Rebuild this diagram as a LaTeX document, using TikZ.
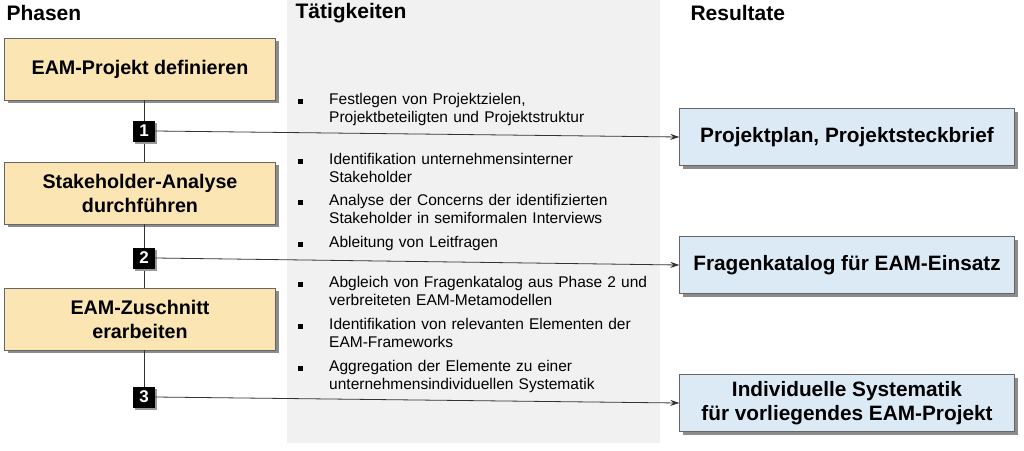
\documentclass[tikz,border=0pt]{standalone}
\usepackage{fontspec}
\setmainfont{Liberation Sans}
\usetikzlibrary{arrows.meta,shadows}
\definecolor{phase}{HTML}{FBE6B3}
\definecolor{res}{HTML}{DCEAF6}
\definecolor{bg}{HTML}{F1F1F1}
\tikzset{
  x=1pt,y=-1pt,
  phasebox/.style={draw=black!60,fill=phase,minimum width=271pt,minimum height=62pt,align=center,font=\fontsize{19.7}{24}\selectfont\bfseries,drop shadow={shadow xshift=3pt,shadow yshift=-3pt,fill=black!45,opacity=1}},
  resbox/.style={draw=black!60,fill=res,minimum width=335pt,minimum height=57pt,align=center,font=\fontsize{20.8}{24}\selectfont\bfseries,drop shadow={shadow xshift=3pt,shadow yshift=-3pt,fill=black!45,opacity=1}},
  marker/.style={fill=black,text=white,minimum width=22pt,minimum height=21pt,inner sep=0pt,font=\fontsize{17}{17}\selectfont\bfseries,drop shadow={shadow xshift=2pt,shadow yshift=-2pt,fill=black!40,opacity=1}},
  head/.style={font=\fontsize{21}{24}\selectfont\bfseries,anchor=west},
  bul/.style={anchor=north west,align=left,font=\fontsize{15.5}{18.5}\selectfont,text width=340pt,inner sep=0pt},
  conn/.style={draw=black!80,line width=0.8pt},
  arr/.style={conn,-{Stealth[length=9pt,width=6pt]}}
}
\begin{document}
\begin{tikzpicture}
\useasboundingbox (0,0) rectangle (1024,450);
\fill[bg] (287,0) rectangle (660,443);
\node[head] (h1) at (3,13) {Phasen};
\node[head] (h2) at (292,13) {Tätigkeiten};
\node[head] (h3) at (687,13) {Resultate};
\node[phasebox] (p1) at (140,69) {EAM-Projekt definieren};
\node[phasebox] (p2) at (140,193) {Stakeholder-Analyse\\durchführen};
\node[phasebox] (p3) at (140,319) {EAM-Zuschnitt\\erarbeiten};
\node[resbox] (r1) at (847,137) {Projektplan, Projektsteckbrief};
\node[resbox] (r2) at (847,265) {Fragenkatalog für EAM-Einsatz};
\node[resbox] (r3) at (847,403) {Individuelle Systematik\\für vorliegendes EAM-Projekt};
\coordinate (m1c) at (144,131);
\coordinate (m2c) at (144,258);
\coordinate (m3c) at (144,397);
\draw[conn] (p1.south -| m1c) -- (p2.north -| m1c);
\draw[conn] (p2.south -| m1c) -- (p3.north -| m1c);
\draw[conn] (p3.south -| m1c) -- (m3c);
\node[marker] (m1) at (m1c) {1};
\node[marker] (m2) at (m2c) {2};
\node[marker] (m3) at (m3c) {3};
\draw[arr] (m1.east) -- (r1.west);
\draw[arr] (m2.east) -- (r2.west);
\draw[arr] (m3.east) -- (r3.west);
\foreach \y/\t/\n in {
  93/{Festlegen von Projektzielen,\\Projektbeteiligten und Projektstruktur}/a,
  153/{Identifikation unternehmensinterner\\Stakeholder}/b,
  194/{Analyse der Concerns der identifizierten\\Stakeholder in semiformalen Interviews}/c,
  236/{Ableitung von Leitfragen}/d,
  276/{Abgleich von Fragenkatalog aus Phase 2 und\\verbreiteten EAM-Metamodellen}/e,
  318/{Identifikation von relevanten Elementen der\\EAM-Frameworks}/f,
  360/{Aggregation der Elemente zu einer\\unternehmensindividuellen Systematik}/g}{
  \fill (298,\y+6) rectangle (303,\y+11);
  \node[bul] (t\n) at (329,\y) {\t};
}
\end{tikzpicture}
\end{document}
